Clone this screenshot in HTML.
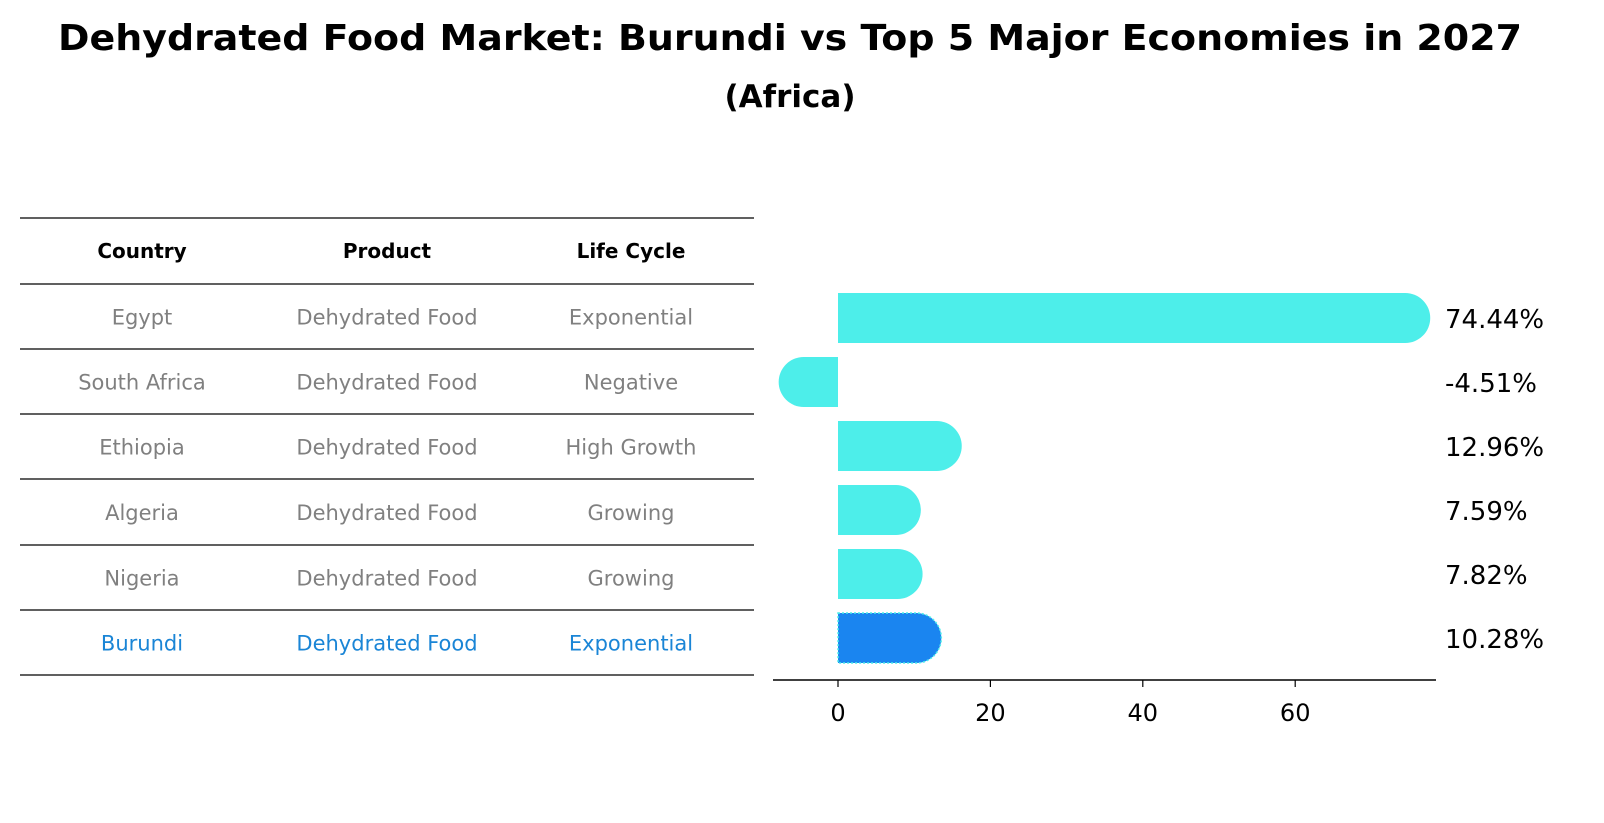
<!DOCTYPE html>
<html><head><meta charset="utf-8"><style>
body{margin:0;background:#fff;font-family:"Liberation Sans","DejaVu Sans",sans-serif;}
#root{position:relative;width:1604px;height:823px;overflow:hidden;}
</style></head><body>
<div id="root">
<svg id="svg" width="1604" height="823" style="font-family:'DejaVu Sans','Liberation Sans',sans-serif">
<text x="790" y="50" text-anchor="middle" font-size="36" font-weight="bold" textLength="1464" lengthAdjust="spacingAndGlyphs">Dehydrated Food Market: Burundi vs Top 5 Major Economies in 2027</text>
<text x="790" y="107" text-anchor="middle" font-size="31" font-weight="bold">(Africa)</text>
<g id="table"></g>
<g id="bars"></g>
</svg>
</div>
<script>
const countries=["Egypt","South Africa","Ethiopia","Algeria","Nigeria","Burundi"];
const products=["Dehydrated Food","Dehydrated Food","Dehydrated Food","Dehydrated Food","Dehydrated Food","Dehydrated Food"];
const lifeCycles=["Exponential","Negative","High Growth","Growing","Growing","Exponential"];
const growth=[74.44,-4.51,12.96,7.59,7.82,10.28];
const valueLabels=["74.44%","-4.51%","12.96%","7.59%","7.82%","10.28%"];
const xTicks=[0,20,40,60];

const NS="http://www.w3.org/2000/svg";
function mk(tag,attrs,parent){const e=document.createElementNS(NS,tag);for(const k in attrs)e.setAttribute(k,attrs[k]);parent.appendChild(e);return e;}
const table=document.getElementById('table');
const lineYs=[218,284,349,414,479,545,610,675];
const colX=[142,387,631];
lineYs.forEach((y,i)=>{
  const l=mk('line',{x1:20,x2:754,y1:y,y2:y,stroke:'#000','stroke-width':1.2},table);
  
  
});
["Country","Product","Life Cycle"].forEach((h,j)=>{
  const t=mk('text',{x:colX[j],y:258,'text-anchor':'middle','font-size':20,'font-weight':'bold'},table);
  t.textContent=h;
  
  
});
countries.forEach((c,i)=>{
  const y=(lineYs[i+1]+lineYs[i+2])/2+8;
  const col=c==="Burundi"?'#1a85d6':'#808080';
  [c,products[i],lifeCycles[i]].forEach((v,j)=>{
    const t=mk('text',{x:colX[j],y:y,'text-anchor':'middle','font-size':21,fill:col},table);
    t.textContent=v;
    
    
  });
});
const bars=document.getElementById('bars');
const x0=838,scale=7.62;
const xs=v=>x0+v*scale;
const yc=i=>318+i*64;
const bh=50,r=25;
growth.forEach((v,i)=>{
  const c=yc(i),top=c-bh/2,end=xs(v);
  const dir=v>=0?1:-1;
  const d=`M${x0},${top} L${end},${top} A${r},${r} 0 0 ${dir>0?1:0} ${end},${top+bh} L${x0},${top+bh} Z`;
  const isB=countries[i]==="Burundi";
  const p=mk('path',{d:d,fill:isB?'#1a85f0':'#4deeea'},bars);
  if(isB){p.setAttribute('stroke','#4deeea');p.setAttribute('stroke-dasharray','2,2');p.setAttribute('stroke-width','1.5');}
  
  
  const t=mk('text',{x:1445,y:c+10,'font-size':26},bars);
  t.textContent=valueLabels[i];
  
  
});
const ax=mk('line',{x1:773,x2:1436,y1:680,y2:680,stroke:'#000','stroke-width':1.6},bars);


xTicks.forEach(v=>{
  const tk=mk('line',{x1:xs(v),x2:xs(v),y1:680,y2:687,stroke:'#000','stroke-width':1.2},bars);
  
  
  const t=mk('text',{x:xs(v),y:721,'text-anchor':'middle','font-size':24},bars);
  t.textContent=v;
  
  
});
</script>
</body></html>
